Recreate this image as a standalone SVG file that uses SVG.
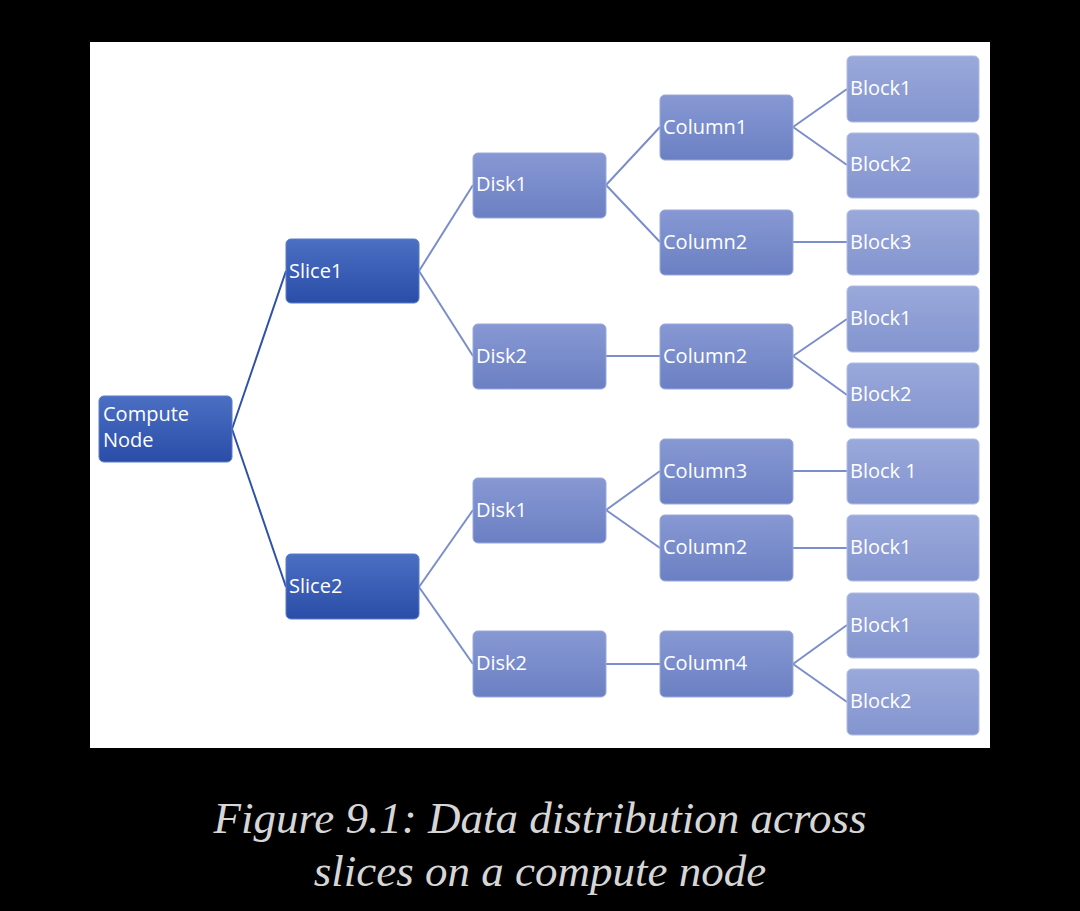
<svg xmlns="http://www.w3.org/2000/svg" width="1080" height="911" viewBox="0 0 1080 911">
<defs>
<linearGradient id="gDark" x1="0" y1="0" x2="0" y2="1"><stop offset="0" stop-color="#4b6fc2"/><stop offset="1" stop-color="#2a4ea8"/></linearGradient>
<linearGradient id="gMid" x1="0" y1="0" x2="0" y2="1"><stop offset="0" stop-color="#8798d3"/><stop offset="1" stop-color="#6b80c3"/></linearGradient>
<linearGradient id="gLight" x1="0" y1="0" x2="0" y2="1"><stop offset="0" stop-color="#9aa9db"/><stop offset="1" stop-color="#8394cf"/></linearGradient>
</defs>
<style>
.dark{fill:url(#gDark);stroke:#5a7cc8;stroke-width:1}
.mid{fill:url(#gMid);stroke:#9aa8da;stroke-width:1}
.light{fill:url(#gLight);stroke:#b0bce3;stroke-width:1}
.t{font-family:"Open Sans","Noto Sans",sans-serif;font-size:20px;fill:#ffffff}
.c1{stroke:#2f52a8;stroke-width:2;fill:none}
.c2{stroke:#7b8ecb;stroke-width:2;fill:none}
.cap{font-family:"Liberation Serif",serif;font-style:italic;font-size:45px;fill:#d6d6d6;text-anchor:middle}
</style>
<rect x="0" y="0" width="1080" height="911" fill="#000000"/>
<rect x="90" y="42" width="900" height="706" fill="#ffffff"/>
<g id="connectors">
<path class="c1" d="M232 429 L286 271 M232 429 L286 587"/>
<path class="c2" d="M419 271 L473 185 M419 271 L473 356 M419 587 L473 510 M419 587 L473 664"/>
<path class="c2" d="M606 185 L660 127 M606 185 L660 242 M606 356 L660 356 M606 510 L660 471 M606 510 L660 548 M606 664 L660 664"/>
<path class="c2" d="M793 127 L847 89 M793 127 L847 165 M793 242 L847 242 M793 356 L847 319 M793 356 L847 395 M793 471 L847 471 M793 548 L847 548 M793 664 L847 625 M793 664 L847 702"/>
</g>
<g id="compute"><rect class="dark" x="99" y="396" width="133" height="66" rx="5"/><text class="t" x="103" y="421">Compute</text><text class="t" x="103" y="447">Node</text></g>
<g id="slice1"><rect class="dark" x="286" y="239" width="133" height="64" rx="5"/><text class="t" x="289" y="278">Slice1</text></g>
<g id="slice2"><rect class="dark" x="286" y="554" width="133" height="65" rx="5"/><text class="t" x="289" y="593">Slice2</text></g>
<g id="disk1a"><rect class="mid" x="473" y="153" width="133" height="65" rx="5"/><text class="t" x="476" y="191">Disk1</text></g>
<g id="disk2a"><rect class="mid" x="473" y="324" width="133" height="65" rx="5"/><text class="t" x="476" y="363">Disk2</text></g>
<g id="disk1b"><rect class="mid" x="473" y="478" width="133" height="65" rx="5"/><text class="t" x="476" y="517">Disk1</text></g>
<g id="disk2b"><rect class="mid" x="473" y="631" width="133" height="66" rx="5"/><text class="t" x="476" y="670">Disk2</text></g>
<g id="col1"><rect class="mid" x="660" y="95" width="133" height="65" rx="5"/><text class="t" x="663" y="134">Column1</text></g>
<g id="col2a"><rect class="mid" x="660" y="210" width="133" height="65" rx="5"/><text class="t" x="663" y="249">Column2</text></g>
<g id="col2b"><rect class="mid" x="660" y="324" width="133" height="65" rx="5"/><text class="t" x="663" y="363">Column2</text></g>
<g id="col3"><rect class="mid" x="660" y="439" width="133" height="65" rx="5"/><text class="t" x="663" y="478">Column3</text></g>
<g id="col2c"><rect class="mid" x="660" y="515" width="133" height="66" rx="5"/><text class="t" x="663" y="554">Column2</text></g>
<g id="col4"><rect class="mid" x="660" y="631" width="133" height="66" rx="5"/><text class="t" x="663" y="670">Column4</text></g>
<g id="b1"><rect class="light" x="847" y="56" width="132" height="66" rx="5"/><text class="t" x="850" y="95">Block1</text></g>
<g id="b2"><rect class="light" x="847" y="133" width="132" height="65" rx="5"/><text class="t" x="850" y="171">Block2</text></g>
<g id="b3"><rect class="light" x="847" y="210" width="132" height="65" rx="5"/><text class="t" x="850" y="249">Block3</text></g>
<g id="b4"><rect class="light" x="847" y="286" width="132" height="66" rx="5"/><text class="t" x="850" y="325">Block1</text></g>
<g id="b5"><rect class="light" x="847" y="363" width="132" height="65" rx="5"/><text class="t" x="850" y="401">Block2</text></g>
<g id="b6"><rect class="light" x="847" y="439" width="132" height="65" rx="5"/><text class="t" x="850" y="478">Block 1</text></g>
<g id="b7"><rect class="light" x="847" y="515" width="132" height="66" rx="5"/><text class="t" x="850" y="554">Block1</text></g>
<g id="b8"><rect class="light" x="847" y="593" width="132" height="65" rx="5"/><text class="t" x="850" y="632">Block1</text></g>
<g id="b9"><rect class="light" x="847" y="669" width="132" height="66" rx="5"/><text class="t" x="850" y="708">Block2</text></g>
<g id="caption">
<text class="cap" x="540" y="833">Figure 9.1: Data distribution across</text>
<text class="cap" x="540" y="886">slices on a compute node</text>
</g>
</svg>
